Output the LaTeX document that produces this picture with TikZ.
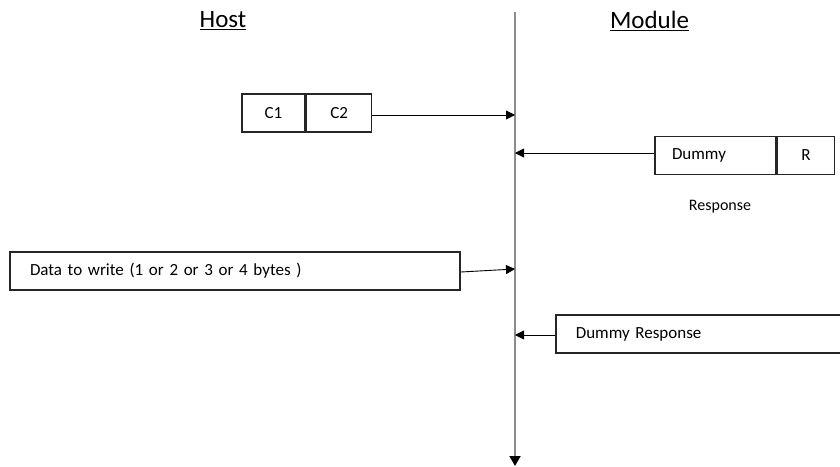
\documentclass[tikz,border=0pt]{standalone}
\usepackage{fontspec}
\setmainfont{Carlito}
\usetikzlibrary{arrows.meta}
\begin{document}
\begin{tikzpicture}[x=1pt,y=-1pt,
  frame/.style={draw=black!85,line width=1.6pt,minimum height=38pt,inner sep=0pt,font=\fontsize{17}{19}\selectfont},
  msg/.style={draw=black,line width=0.9pt,-{Triangle[length=9pt,width=9pt]}},
  heading/.style={font=\fontsize{25}{28}\selectfont,inner sep=0pt}]
  \useasboundingbox (0,0) rectangle (840,466);
  \clip (0,0) rectangle (840,466);

  % headings
  \node[heading] (host) at (223,21) {\underline{Host}};
  \node[heading] (module) at (649.5,21) {\underline{Module}};

  % time axis
  \coordinate (top) at (515,12);
  \coordinate (bottom) at (515,466);
  \draw[draw=gray!90,line width=1.8pt,-{Triangle[length=10pt,width=11pt,color=black]}] (top) -- (bottom);

  % command frame
  \node[frame,minimum width=63pt] (c1) at (273.5,113) {C1};
  \node[frame,minimum width=65pt,anchor=west] (c2) at (c1.east) {C2};
  \coordinate (a1) at (515,115);
  \draw[msg] (c2.east |- a1) -- (a1);

  % response frame
  \node[frame,minimum width=121pt,text width=87pt,align=left] (dummy) at (715.5,155.5) {Dummy};
  \node[frame,minimum width=57pt,anchor=west] (r) at (dummy.east) {R};
  \node[font=\fontsize{16}{18}\selectfont] (resp) at (720,207) {Response};
  \coordinate (a2) at (515,153);
  \draw[msg] (dummy.west |- a2) -- (a2);

  % data frame
  \node[frame,minimum width=450pt,text width=410pt,align=left] (data) at (235,271) {Data to write (1 or 2 or 3 or 4 bytes )};
  \coordinate (a3) at (515,269);
  \draw[msg] ([yshift=-1pt]data.east) -- (a3);

  % dummy response frame
  \node[frame,minimum width=360pt,text width=320pt,align=left,anchor=west] (dresp) at (555,334) {Dummy Response};
  \coordinate (a4) at (515,335);
  \draw[msg] (dresp.west |- a4) -- (a4);
\end{tikzpicture}
\end{document}
